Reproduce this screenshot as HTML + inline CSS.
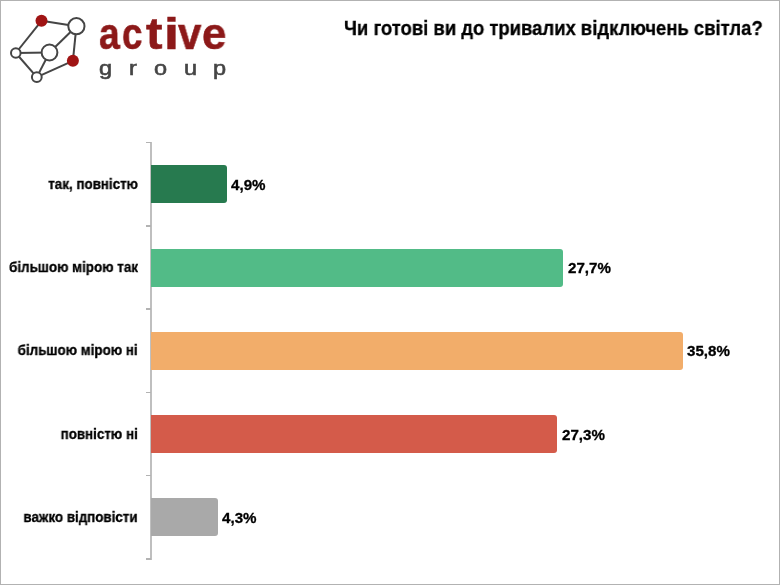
<!DOCTYPE html>
<html><head><meta charset="utf-8">
<style>
html,body{margin:0;padding:0;}
body{width:780px;height:585px;position:relative;overflow:hidden;background:#fff;font-family:"Liberation Sans",sans-serif;}
.frame{position:absolute;left:0;top:0;width:778px;height:583px;border:1px solid #b2b2b2;}
.t{position:absolute;white-space:nowrap;font-weight:bold;color:#000;will-change:transform;-webkit-text-stroke:0.3px #000;}
.title{left:344px;top:17px;font-size:20px;transform-origin:0 0;transform:scaleX(0.923);}
.lbl{right:642.5px;font-size:14px;text-align:right;transform-origin:100% 0;transform:scaleX(0.955);}
.val{font-size:15px;transform-origin:0 0;transform:scaleX(1.01);}
.bar{position:absolute;left:151px;height:38px;border-radius:0 3px 3px 0;}
.axis{position:absolute;left:150px;top:142px;width:2px;height:417.6px;background:#bfbfbf;}
.tick{position:absolute;left:146px;width:5px;height:1.6px;background:#b3b3b3;}
.logo-a{will-change:transform;position:absolute;top:7.7px;font-size:45px;font-weight:bold;color:#8c1919;-webkit-text-stroke:0.6px #8c1919;transform-origin:0 0;}
.logo-g{will-change:transform;position:absolute;top:55.5px;font-size:21px;font-weight:normal;-webkit-text-stroke:0.6px #454545;color:#454545;transform-origin:0 0;transform:scaleX(1.12);}
</style></head><body>
<div class="frame"></div>
<svg style="position:absolute;left:0;top:0" width="95" height="90">
<g stroke="#454545" stroke-width="2" fill="none">
<line x1="41.5" y1="20.8" x2="76.4" y2="26.2"/>
<line x1="41.5" y1="20.8" x2="15.8" y2="53"/>
<line x1="15.8" y1="53" x2="49.5" y2="52.5"/>
<line x1="15.8" y1="53" x2="36.8" y2="77.1"/>
<line x1="49.5" y1="52.5" x2="76.4" y2="26.2"/>
<line x1="49.5" y1="52.5" x2="36.8" y2="77.1"/>
<line x1="76.4" y1="26.2" x2="72.9" y2="60.8"/>
<line x1="72.9" y1="60.8" x2="36.8" y2="77.1"/>
</g>
<g stroke="#454545" stroke-width="2" fill="#fff">
<circle cx="76.4" cy="26.2" r="8.1"/>
<circle cx="15.8" cy="53" r="4.8"/>
<circle cx="49.5" cy="52.5" r="7.9"/>
<circle cx="36.8" cy="77.1" r="4.9"/>
</g>
<g fill="#a01414">
<circle cx="41.5" cy="20.8" r="6"/>
<circle cx="72.9" cy="60.8" r="6"/>
</g>
</svg>
<div class="logo-a" style="left:98.90px;transform:scaleX(0.829)">a</div><div class="logo-a" style="left:122.0px;transform:scaleX(0.814)">c</div><div class="logo-a" style="left:145.6px;transform:scaleX(1.1)">t</div><div class="logo-a" style="left:163.6px;transform:scaleX(1.2)">i</div><div class="logo-a" style="left:177.71px;transform:scaleX(0.934)">v</div><div class="logo-a" style="left:201.6px;transform:scaleX(0.97)">e</div>
<div class="logo-g" style="left:99px">g</div><div class="logo-g" style="left:129px">r</div><div class="logo-g" style="left:154px">o</div><div class="logo-g" style="left:184px">u</div><div class="logo-g" style="left:213px">p</div>
<div class="t title">Чи готові ви до тривалих відключень світла?</div>

<div class="axis"></div>
<div class="tick" style="top:141.90px"></div>
<div class="tick" style="top:225.12px"></div>
<div class="tick" style="top:308.34px"></div>
<div class="tick" style="top:391.56px"></div>
<div class="tick" style="top:474.78px"></div>
<div class="tick" style="top:558.00px"></div>

<div class="bar" style="top:165.4px;width:75.6px;background:#277a4f"></div>
<div class="bar" style="top:248.6px;width:411.9px;background:#52bb87"></div>
<div class="bar" style="top:331.7px;width:531.7px;background:#f2ad6a"></div>
<div class="bar" style="top:415.1px;width:406px;background:#d45b4a"></div>
<div class="bar" style="top:498.1px;width:66.8px;background:#a9a9a9"></div>

<div class="t lbl" style="top:176px">так, повністю</div>
<div class="t lbl" style="top:259px">більшою мірою так</div>
<div class="t lbl" style="top:342px">більшою мірою ні</div>
<div class="t lbl" style="top:426px">повністю ні</div>
<div class="t lbl" style="top:509px">важко відповісти</div>

<div class="t val" style="left:231.2px;top:176px">4,9%</div>
<div class="t val" style="left:567.8px;top:259.2px">27,7%</div>
<div class="t val" style="left:687.4px;top:342.2px">35,8%</div>
<div class="t val" style="left:561.6px;top:425.6px">27,3%</div>
<div class="t val" style="left:222.4px;top:509.2px">4,3%</div>
</body></html>
